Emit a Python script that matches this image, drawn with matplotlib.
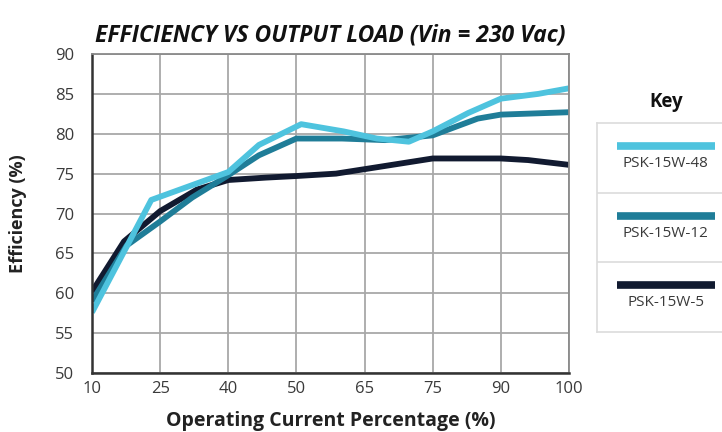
import matplotlib
matplotlib.use("Agg")
import matplotlib.pyplot as plt
import numpy as np

plt.rcParams['font.family'] = ['Open Sans', 'DejaVu Sans']

tick_labels = ["10", "25", "40", "50", "65", "75", "90", "100"]
series_names = ["PSK-15W-48", "PSK-15W-12", "PSK-15W-5"]
series_colors = ["#4ec3de", "#1f7d98", "#111a30"]

# x given in tick-slot units (ticks are evenly spaced but unevenly labelled)
x_48 = [0, 0.87, 2, 2.45, 3.07, 3.69, 4.18, 4.65, 5, 5.52, 6, 6.55, 7]
y_48 = [57.6, 71.7, 75.2, 78.6, 81.2, 80.3, 79.4, 79.0, 80.3, 82.6, 84.4, 85.0, 85.7]

x_12 = [0, 0.51, 1, 1.47, 2, 2.45, 3, 3.67, 4.3, 5, 5.66, 6, 7]
y_12 = [59.0, 66.0, 69.0, 72.0, 74.8, 77.3, 79.4, 79.4, 79.2, 79.8, 81.9, 82.4, 82.7]

x_5 = [0, 0.47, 1, 1.54, 2, 2.55, 3, 3.58, 4.18, 5, 6, 6.4, 7]
y_5 = [60.2, 66.5, 70.3, 73.0, 74.2, 74.5, 74.7, 75.0, 75.8, 76.9, 76.9, 76.7, 76.1]

series = [(x_48, y_48), (x_12, y_12), (x_5, y_5)]

fig = plt.figure(figsize=(7.22, 4.32), dpi=100)
ax = fig.add_axes([92 / 722, 1 - 373 / 432, (569 - 92) / 722, (373 - 54) / 432])

for (xs, ys), color in zip(series[::-1], series_colors[::-1]):
    ax.plot(xs, ys, color=color, lw=4.2, solid_joinstyle="round", solid_capstyle="butt")

ax.set_xlim(0, 7)
ax.set_ylim(50, 90)
ax.set_xticks(range(len(tick_labels)))
ax.set_xticklabels(tick_labels)
ax.set_yticks(np.arange(50, 91, 5))
ax.grid(True, color="#a8a8a8", lw=1.3)
ax.set_axisbelow(True)
ax.tick_params(length=0, labelsize=12, colors="#3a3a3a")
ax.tick_params(axis="y", pad=13)
ax.tick_params(axis="x", pad=6)
for side in ["left", "bottom"]:
    ax.spines[side].set_color("#333333")
    ax.spines[side].set_linewidth(1.8)
for side in ["top", "right"]:
    ax.spines[side].set_color("#8a8a8a")
    ax.spines[side].set_linewidth(1.3)

ax.set_title("EFFICIENCY VS OUTPUT LOAD (Vin = 230 Vac)", fontsize=16.5, fontweight="bold",
             style="italic", color="#111111", pad=9)
ax.set_xlabel("Operating Current Percentage (%)", fontsize=14, fontweight="bold",
              color="#222222")
ax.xaxis.set_label_coords(0.5, -0.118)
ax.set_ylabel("Efficiency (%)", fontsize=13, fontweight="bold", color="#222222")
ax.yaxis.set_label_coords(-0.137, 0.5)

# key panel on the right
key = fig.add_axes([597 / 722, 1 - 332 / 432, (722 - 597) / 722, (332 - 123) / 432])
key.set_xlim(0, 1)
key.set_ylim(0, 3)
key.set_xticks([])
key.set_yticks([])
for side in ["top", "left", "bottom"]:
    key.spines[side].set_color("#dcdcdc")
    key.spines[side].set_linewidth(1.2)
key.spines["right"].set_visible(False)
for i, (name, color) in enumerate(zip(series_names, series_colors)):
    row = 2 - i
    key.plot([0.16, 0.94], [row + 0.67, row + 0.67], color=color, lw=5.5, solid_capstyle="butt")
    key.text(0.55, row + 0.42, name, ha="center", va="center", fontsize=11, color="#3a3a3a")
    if i > 0:
        key.axhline(row + 1, color="#dcdcdc", lw=1.2)
fig.text(666 / 722, 1 - 102 / 432, "Key", ha="center", va="center", fontsize=13.5,
         fontweight="bold", color="#111111")

fig.savefig("out.png", dpi=100)
